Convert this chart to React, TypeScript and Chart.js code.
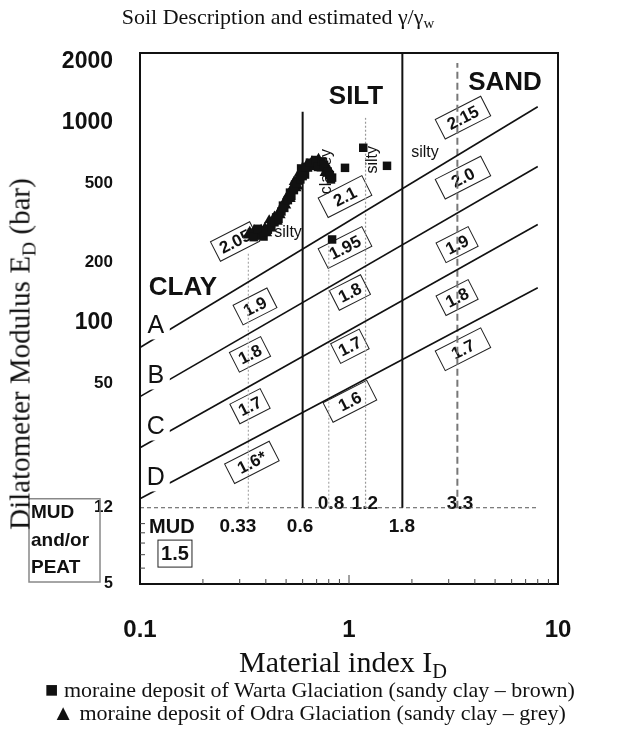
import React, { useEffect, useRef } from "react";
import { Chart, registerables } from "chart.js";
Chart.register(...registerables);

// ---------- axes ----------
const X_TICKS = [0.1, 1, 10];
const Y_TICKS = [5, 12, 50, 100, 200, 500, 1000, 2000];
const Y_BIG_TICKS = [2000, 1000, 100];
const X_MIN = 0.1;
const X_MAX = 10;
const Y_MIN = 5;
const Y_MAX = 2220;
const X_MINOR = [0.2, 0.3, 0.4, 0.5, 0.6, 0.7, 0.8, 0.9, 2, 3, 4, 5, 6, 7, 8, 9];
const Y_MINOR = [6, 7, 8, 9, 10];

// ---------- data points ----------
const wartaX = [1.17, 1.52, 0.957, 0.83, 0.343, 0.375, 0.409, 0.448, 0.483, 0.522, 0.57, 0.596, 0.637, 0.68, 0.727, 0.776, 0.83, 0.552, 0.616,
  0.35, 0.365, 0.39, 0.4, 0.425, 0.44, 0.46, 0.475, 0.49, 0.51, 0.53, 0.545, 0.56, 0.585, 0.59, 0.6, 0.62, 0.65, 0.69, 0.71, 0.74, 0.76, 0.79, 0.81, 0.82];
const wartaY = [748, 608, 594, 261, 282, 289, 292, 336, 385, 447, 513, 569, 596, 624, 610, 582, 531, 490, 550,
  268, 295, 270, 285, 300, 318, 330, 360, 375, 410, 430, 460, 500, 520, 590, 540, 600, 630, 650, 600, 640, 615, 570, 545, 520];
const odraX = [0.329, 0.359, 0.384, 0.396, 0.419, 0.433, 0.457, 0.468, 0.494, 0.505, 0.534, 0.583, 0.658, 0.703, 0.751, 0.802, 0.57,
  0.335, 0.352, 0.37, 0.38, 0.405, 0.415, 0.44, 0.455, 0.47, 0.485, 0.5, 0.515, 0.525, 0.545, 0.56, 0.575, 0.605, 0.63, 0.665, 0.69, 0.715, 0.74, 0.765, 0.795, 0.815];
const odraY = [273, 276, 279, 299, 310, 321, 351, 367, 403, 427, 473, 537, 610, 631, 596, 556, 479,
  285, 290, 270, 292, 280, 325, 340, 320, 345, 395, 385, 440, 415, 505, 470, 555, 585, 620, 640, 600, 660, 590, 560, 590, 560];

// ---------- classification lines ----------
const lineAX = [0.1, 8.0];
const lineAY = [75.5, 1197];
const lineBX = [0.1, 8.0];
const lineBY = [43, 603];
const lineCX = [0.1, 8.0];
const lineCY = [23.9, 310];
const lineDX = [0.1, 8.0];
const lineDY = [13.3, 150];

const bound06X = [0.6, 0.6];
const bound06Y = [12, 1130];
const bound18X = [1.8, 1.8];
const bound18Y = [12, 2220];
const dot033X = [0.33, 0.33];
const dot033Y = [12, 224];
const dot08X = [0.8, 0.8];
const dot08Y = [12, 250];
const dot12X = [1.2, 1.2];
const dot12Y = [12, 1054];
const dash33X = [3.3, 3.3];
const dash33Y = [12, 1980];
const mudLineX = [0.1, 8.0];
const mudLineY = [12, 12];

// ---------- gamma labels (boxed, rotated) ----------
const gammaLabels = ["2.05", "2.1", "1.95", "2.15", "2.0", "1.9", "1.8", "1.7", "1.9", "1.8", "1.7", "1.6*", "1.8", "1.7", "1.6"];
const gammaX = [0.285, 0.957, 0.957, 3.51, 3.51, 3.29, 3.29, 3.51, 0.355, 0.336, 0.336, 0.343, 1.01, 1.01, 1.01];
const gammaY = [255, 427, 238, 1057, 531, 246, 134, 74, 121, 69.8, 38.5, 20.2, 142, 76.6, 40.7];

// ---------- region / value texts ----------
const regionLabels = ["SILT", "SAND", "CLAY"];
const regionX = [1.08, 5.58, 0.1606];
const regionY = [1343, 1578, 150];
const letterLabels = ["A", "B", "C", "D"];
const letterX = [0.119, 0.119, 0.119, 0.119];
const letterY = [97.3, 54.8, 30.5, 17.0];
const idLabels = ["0.33", "0.6", "1.8", "0.8", "1.2", "3.3"];
const idX = [0.294, 0.583, 1.79, 0.82, 1.19, 3.4];
const idY = [9.6, 9.7, 9.7, 12.5, 12.5, 12.5];
const mudLabel = "MUD";
const mudX = 0.142;
const mudY = 9.6;
const mudGamma = "1.5";
const mudGammaX = 0.147;
const mudGammaY = 7.13;
const descLabels = ["clayey", "silty", "silty", "silty"];
const descX = [0.785, 1.29, 2.31, 0.511];
const descY = [569, 652, 706, 282];
const descVertical = [true, true, false, false];
const peatLines = ["MUD", "and/or", "PEAT"];

// ---------- styles (not data) ----------
const SANS = '"Liberation Sans", Arial, sans-serif';
const SERIF = '"Liberation Serif", "Times New Roman", serif';
const BOX_W = [44, 49, 49, 51, 51, 36, 36, 51, 38, 35, 34, 50, 35, 32, 49];
const ROT = (-27 * Math.PI) / 180;

const pts = (xs: number[], ys: number[]) => xs.map((x, i) => ({ x, y: ys[i] }));

const lineDs = (xs: number[], ys: number[], color: string, width: number, dash: number[] = []) => ({
  data: pts(xs, ys),
  showLine: true,
  borderColor: color,
  borderWidth: width,
  borderDash: dash,
  pointRadius: 0,
  backgroundColor: color,
});

const annotations = {
  id: "soilAnnotations",
  beforeDatasetsDraw(chart: any) {
    const { ctx, scales } = chart;
    const X = (v: number) => scales.x.getPixelForValue(v);
    const Y = (v: number) => scales.y.getPixelForValue(v);
    ctx.save();
    ctx.fillStyle = "#111";
    ctx.textAlign = "center";
    ctx.textBaseline = "middle";

    ctx.font = `bold 26px ${SANS}`;
    regionLabels.forEach((t, i) => ctx.fillText(t, X(regionX[i]), Y(regionY[i])));

    ctx.font = `bold 19px ${SANS}`;
    idLabels.forEach((t, i) => ctx.fillText(t, X(idX[i]), Y(idY[i])));

    ctx.font = `bold 20px ${SANS}`;
    ctx.fillText(mudLabel, X(mudX), Y(mudY));
    const gx = X(mudGammaX);
    const gy = Y(mudGammaY);
    ctx.fillText(mudGamma, gx, gy + 1);
    ctx.strokeStyle = "#222";
    ctx.lineWidth = 1;
    ctx.strokeRect(gx - 17, gy - 13, 34, 27);

    ctx.font = `16px ${SANS}`;
    descLabels.forEach((t, i) => {
      ctx.save();
      ctx.translate(X(descX[i]), Y(descY[i]));
      if (descVertical[i]) ctx.rotate(-Math.PI / 2);
      ctx.fillText(t, 0, 0);
      ctx.restore();
    });

    ctx.font = `bold 17px ${SANS}`;
    gammaLabels.forEach((t, i) => {
      ctx.save();
      ctx.translate(X(gammaX[i]), Y(gammaY[i]));
      ctx.rotate(ROT);
      ctx.fillText(t, 0, 1);
      ctx.strokeStyle = "#222";
      ctx.lineWidth = 1;
      ctx.strokeRect(-BOX_W[i] / 2, -11, BOX_W[i], 22);
      ctx.restore();
    });
    ctx.restore();
  },
  afterDatasetsDraw(chart: any) {
    const { ctx, chartArea, scales } = chart;
    const X = (v: number) => scales.x.getPixelForValue(v);
    const Y = (v: number) => scales.y.getPixelForValue(v);
    ctx.save();
    ctx.font = `25px ${SANS}`;
    ctx.textAlign = "center";
    ctx.textBaseline = "middle";
    letterLabels.forEach((t, i) => {
      const px = X(letterX[i]);
      const py = Y(letterY[i]);
      ctx.fillStyle = "#fff";
      ctx.fillRect(px - 10, py - 14, 24, 28);
      ctx.fillStyle = "#111";
      ctx.fillText(t, px, py + 1);
    });
    ctx.strokeStyle = "#111";
    ctx.lineWidth = 2;
    ctx.strokeRect(chartArea.left, chartArea.top, chartArea.right - chartArea.left, chartArea.bottom - chartArea.top);
    ctx.lineWidth = 1;
    ctx.strokeStyle = "#444";
    X_MINOR.forEach((v) => {
      const px = X(v);
      ctx.beginPath();
      ctx.moveTo(px, chartArea.bottom);
      ctx.lineTo(px, chartArea.bottom - 5);
      ctx.stroke();
    });
    ctx.beginPath();
    ctx.moveTo(X(1), chartArea.bottom);
    ctx.lineTo(X(1), chartArea.bottom - 9);
    ctx.stroke();
    Y_MINOR.forEach((v) => {
      const py = Y(v);
      ctx.beginPath();
      ctx.moveTo(chartArea.left, py);
      ctx.lineTo(chartArea.left + 5, py);
      ctx.stroke();
    });
    const bx = chartArea.left - 111;
    const by = Y(12) - 9;
    const bb = Y(Y_MIN) - 2;
    ctx.strokeStyle = "#888";
    ctx.lineWidth = 1.5;
    ctx.strokeRect(bx, by, 71, bb - by);
    ctx.fillStyle = "#111";
    ctx.textAlign = "left";
    ctx.font = `bold 19px ${SANS}`;
    const step = (bb - by) / 3;
    peatLines.forEach((t, i) => ctx.fillText(t, bx + 2, by + step * (i + 0.5)));
    ctx.restore();
  },
};

export default function App() {
  const ref = useRef<HTMLCanvasElement>(null);
  useEffect(() => {
    const chart = new Chart(ref.current as HTMLCanvasElement, {
      type: "scatter",
      data: {
        datasets: [
          {
            label: "moraine deposit of Warta Glaciation (sandy clay – brown)",
            data: pts(wartaX, wartaY),
            pointStyle: "rect",
            pointRadius: 6,
            backgroundColor: "#111",
            borderColor: "#111",
            borderWidth: 0,
          },
          {
            label: "moraine deposit of Odra Glaciation (sandy clay – grey)",
            data: pts(odraX, odraY),
            pointStyle: "triangle",
            pointRadius: 6,
            backgroundColor: "#111",
            borderColor: "#111",
            borderWidth: 0,
          },
          lineDs(lineAX, lineAY, "#111", 1.6),
          lineDs(lineBX, lineBY, "#111", 1.6),
          lineDs(lineCX, lineCY, "#111", 1.6),
          lineDs(lineDX, lineDY, "#111", 1.6),
          lineDs(bound06X, bound06Y, "#111", 2),
          lineDs(bound18X, bound18Y, "#111", 2),
          lineDs(dot033X, dot033Y, "#aaa", 1.2, [2, 2]),
          lineDs(dot08X, dot08Y, "#aaa", 1.2, [2, 2]),
          lineDs(dot12X, dot12Y, "#999", 1.2, [2, 2]),
          lineDs(dash33X, dash33Y, "#777", 2, [7, 4]),
          lineDs(mudLineX, mudLineY, "#555", 1, [4, 3]),
        ] as any,
      },
      options: {
        animation: false,
        responsive: false,
        devicePixelRatio: 1,
        layout: { padding: { left: 0, right: 61, top: 53, bottom: 0 } },
        plugins: {
          legend: { display: false },
          title: { display: false },
          tooltip: { enabled: false },
        },
        scales: {
          x: {
            type: "logarithmic",
            min: X_MIN,
            max: X_MAX,
            grid: { display: false },
            border: { display: false },
            afterBuildTicks: (s: any) => {
              s.ticks = X_TICKS.map((v) => ({ value: v }));
            },
            afterFit: (s: any) => {
              s.height = 152;
            },
            ticks: {
              autoSkip: false,
              maxRotation: 0,
              padding: 24,
              color: "#111",
              font: { family: SANS, size: 24, weight: "bold" },
              callback: (v: any) => String(v),
            },
          },
          y: {
            type: "logarithmic",
            min: Y_MIN,
            max: Y_MAX,
            grid: { display: false },
            border: { display: false },
            afterBuildTicks: (s: any) => {
              s.ticks = Y_TICKS.map((v) => ({ value: v }));
            },
            afterFit: (s: any) => {
              s.width = 140;
            },
            ticks: {
              autoSkip: false,
              padding: 19,
              color: "#111",
              font: (c: any) => ({
                family: SANS,
                weight: "bold",
                size: c.tick && Y_BIG_TICKS.includes(c.tick.value) ? 23 : c.tick && c.tick.value === 5 ? 16 : 17,
              }),
              callback: (v: any) => String(v),
            },
          },
        },
      } as any,
      plugins: [annotations],
    });
    return () => chart.destroy();
  }, []);

  const sub = { fontSize: "0.68em", verticalAlign: "-0.3em", lineHeight: 0 } as React.CSSProperties;
  const abs = (left: number, top: number, size: number, extra: React.CSSProperties = {}): React.CSSProperties => ({
    position: "absolute",
    left,
    top,
    transform: "translate(-50%, -50%)",
    fontSize: size,
    whiteSpace: "nowrap",
    lineHeight: 1,
    color: "#111",
    ...extra,
  });

  return (
    <div style={{ position: "absolute", left: 0, top: 0, width: 619, height: 736, background: "#fff", fontFamily: SERIF, overflow: "hidden" }}>
      <canvas ref={ref} width={619} height={736} style={{ position: "absolute", left: 0, top: 0, width: 619, height: 736 }} />
      <div style={abs(278, 17, 22)}>
        Soil Description and estimated γ/γ<span style={sub}>w</span>
      </div>
      <div style={abs(20, 354, 29, { transform: "translate(-50%, -50%) rotate(-90deg)" })}>
        Dilatometer Modulus E<span style={sub}>D</span> (bar)
      </div>
      <div style={abs(343, 662, 30)}>
        Material index I<span style={sub}>D</span>
      </div>
      <div style={abs(310, 690, 22)}>■ moraine deposit of Warta Glaciation (sandy clay – brown)</div>
      <div style={abs(309, 713, 22)}>▲ moraine deposit of Odra Glaciation (sandy clay – grey)</div>
    </div>
  );
}
